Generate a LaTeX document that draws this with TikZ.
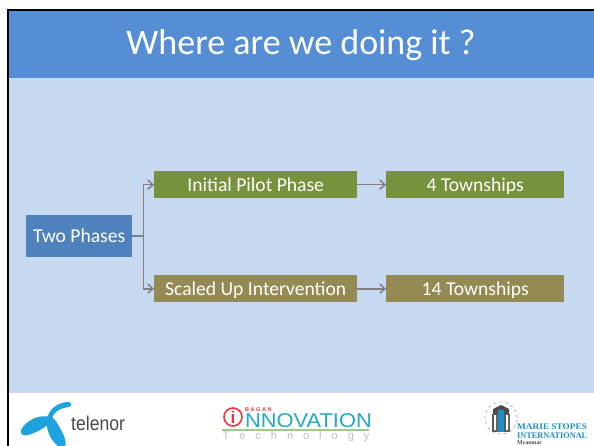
\documentclass[tikz,border=0pt]{standalone}
\usepackage{fontspec}
\setmainfont{Carlito}
\newfontfamily\logofont{Liberation Sans}
\newfontfamily\seriflogo{Liberation Serif}
\usetikzlibrary{arrows.meta}
\definecolor{headblue}{HTML}{558ED5}
\definecolor{bodyblue}{HTML}{C6D9F1}
\definecolor{rootblue}{HTML}{4F81BD}
\definecolor{boxgreen}{HTML}{76923C}
\definecolor{boxolive}{HTML}{948A54}
\definecolor{linkgrey}{HTML}{7F7F7F}
\definecolor{telblue}{HTML}{1FA3E0}
\definecolor{telgrey}{HTML}{4A4A4A}
\definecolor{bagred}{HTML}{E8353F}
\definecolor{bagcyan}{HTML}{22A9C9}
\definecolor{baggreen}{HTML}{9CCB8A}
\definecolor{msblue}{HTML}{1E8FCB}
\tikzset{
  flowbox/.style={inner sep=0pt,text=white,font=\fontsize{19.6}{22}\selectfont,anchor=north west,text height=13pt,text depth=0pt},
  link/.style={draw=linkgrey,line width=1.6pt,-{Straight Barb[length=5pt,width=9pt,line width=1.5pt]}},
}
\begin{document}
\begin{tikzpicture}[x=1pt,y=-1pt]
\useasboundingbox (0,0) rectangle (594,446);
\fill[white] (0,0) rectangle (594,446);
% slide
\fill[bodyblue] (8,78) rectangle (594,393);
\fill[headblue] (8,9) rectangle (594,78);
\draw[black,line width=2pt] (594,10) -- (8,10) -- (8,446);
\node[text=white,font=\fontsize{36}{42}\selectfont] (title) at (301,45) {Where are we doing it ?};
% boxes
\node[flowbox,fill=rootblue,minimum width=106pt,minimum height=42pt] (root) at (26,215) {Two Phases};
\node[flowbox,fill=boxgreen,minimum width=203pt,minimum height=27pt] (pilot) at (154,171) {Initial Pilot Phase};
\node[flowbox,fill=boxolive,minimum width=203pt,minimum height=27pt] (scaled) at (154,275) {Scaled Up Intervention};
\node[flowbox,fill=boxgreen,minimum width=178pt,minimum height=27pt] (four) at (386,171) {4 Townships};
\node[flowbox,fill=boxolive,minimum width=178pt,minimum height=27pt] (fourteen) at (386,275) {14 Townships};
% connectors
\draw[link] (root.east) -- ++(11,0) |- (pilot.west);
\draw[link] (root.east) -- ++(11,0) |- (scaled.west);
\draw[link] (pilot.east) -- (four.west);
\draw[link] (scaled.east) -- (fourteen.west);
% telenor logo
\fill[telblue] (47,421) .. controls (47,410) and (58,402) .. (68,402)
  .. controls (72,402) and (72,406) .. (69,407)
  .. controls (60,408) and (53,412) .. (51,421) -- cycle;
\fill[telblue] (49,417) .. controls (40,414) and (26,420) .. (21,430)
  .. controls (20,435) and (24,436) .. (28,435)
  .. controls (36,433) and (44,428) .. (50,423) -- cycle;
\fill[telblue] (47,416) .. controls (54,414) and (60,428) .. (64,436)
  .. controls (66,441) and (66,446) .. (65,446)
  -- (58,446) .. controls (50,440) and (45,428) .. (47,416) -- cycle;
\node[text=telgrey,font=\logofont\fontsize{20}{22}\selectfont,inner sep=0pt,anchor=west,xscale=.88] (telenor) at (71,423) {telenor};
% bagan innovation logo
\draw[bagred,line width=1.6pt,fill=white] (233,417) circle (9pt);
\node[text=bagred,font=\logofont\bfseries\fontsize{17}{18}\selectfont,inner sep=0pt] (ilogo) at (233,417) {i};
\node[text=bagred,font=\logofont\bfseries\fontsize{5.5}{6}\selectfont,inner sep=0pt,anchor=west] (bagan) at (245,409.5) {B A G A N};
\node[text=bagcyan,font=\logofont\fontsize{21}{21}\selectfont,inner sep=0pt,anchor=west,xscale=1.04,yscale=.95] (innov) at (245,421) {NNOVATION};
\fill[baggreen] (222,429) rectangle (369,431);
\node[text=black!25,font=\logofont\fontsize{11}{12}\selectfont,inner sep=0pt] (tech) at (296,437) {T\hspace{10pt}e\hspace{10pt}c\hspace{10pt}h\hspace{10pt}n\hspace{10pt}o\hspace{10pt}l\hspace{10pt}o\hspace{10pt}g\hspace{10pt}y};
% marie stopes logo
\draw[black!35,line width=.6pt,dashed] (501,418) circle (16pt);
\fill[black!65] (492,414) rectangle (510,432);
\fill[black!70] (493,409) -- (501,405) -- (509,409) -- (509,414) -- (493,414) -- cycle;
\fill[msblue] (498,410) rectangle (504,432);
\fill[white] (494,415) rectangle (496,430) (506,415) rectangle (508,430);
\node[text=msblue,font=\seriflogo\bfseries\fontsize{8.6}{10}\selectfont,inner sep=0pt,anchor=west,xscale=1.08] (marie) at (517,426.5) {MARIE STOPES};
\node[text=msblue,font=\seriflogo\bfseries\fontsize{8.6}{10}\selectfont,inner sep=0pt,anchor=west,xscale=.96] (intl) at (517,436) {INTERNATIONAL};
\node[text=black!70,font=\seriflogo\bfseries\fontsize{5.8}{6}\selectfont,inner sep=0pt,anchor=west] (myan) at (517,443.5) {Myanmar};
\end{tikzpicture}
\end{document}
